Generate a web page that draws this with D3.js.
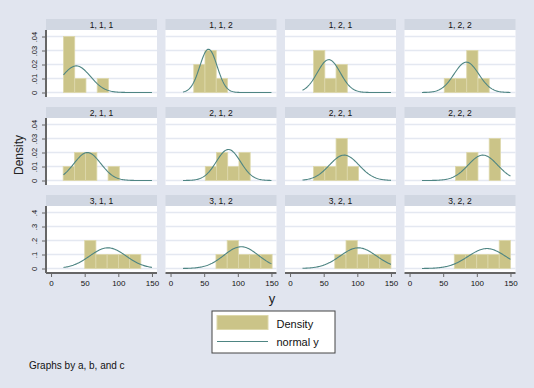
<!DOCTYPE html>
<html>
<head>
<meta charset="utf-8">
<script src="https://cdn.jsdelivr.net/npm/d3@7"></script>
<style>
  body { margin: 0; background: #e1e5ef; }
  svg { display: block; font-family: "Liberation Sans", Arial, sans-serif; }
</style>
</head>
<body>
<svg id="chart" width="534" height="388"></svg>
<script>
// panel titles (a, b, c)
const panelTitles = ["1, 1, 1", "1, 1, 2", "1, 2, 1", "1, 2, 2",
                     "2, 1, 1", "2, 1, 2", "2, 2, 1", "2, 2, 2",
                     "3, 1, 1", "3, 1, 2", "3, 2, 1", "3, 2, 2"]
// histogram: left edge of first bin and density of each bin
const binStart = [18.5, 34.5, 35, 51.6, 18, 51.6, 35, 68.3, 50, 67.5, 66.5, 66.5]
const binWidth = 16.7
const binDensity = [
    [.04, .01, 0, .01],
    [.02, .03, .01],
    [.03, .01, .02],
    [.01, .01, .03, .01],
    [.01, .02, .02, 0, .01],
    [.01, .02, .01, .02],
    [.01, .01, .03, .01],
    [.01, .02, 0, .03],
    [.02, .01, .01, .01, .01],
    [.01, .02, .01, .01, .01],
    [.01, .02, .01, .01, .01],
    [.01, .01, .01, .01, .02]
]
// normal overlay: mean and sd per panel
const normMean = [37.5, 56.4, 57.6, 84.5, 54, 86, 80.5, 109, 84.5, 105, 101.5, 115]
const normSd = [21, 12.9, 17, 18.4, 20, 18, 22, 22, 27, 25.7, 27, 28]
const yRange = [18.5, 150]   // range of y, curve is drawn over this

const xTicks = [0, 50, 100, 150]
const yTicks = [0, .01, .02, .03, .04]
const yTickLabels = [
    ["0", ".01", ".02", ".03", ".04"],
    ["0", ".01", ".02", ".03", ".04"],
    ["0", ".1", ".2", ".3", ".4"]
]

const svg = d3.select("#chart")
const nCols = 4
const colX = [46, 165.5, 285, 404.5],
    panelW = 111,
    rowY = [19, 107, 195],
    headH = 11,
    plotH = 67

const x = d3.scaleLinear().domain([-7.5, 157.5]).range([0, panelW])
const y = d3.scaleLinear().domain([0, .04]).range([62.5, 6.5])

const barFill = "#cbc488", barStroke = "#ddd8ab", lineColor = "#4e8583"

panelTitles.forEach((title, i) => {
    const r = Math.floor(i / nCols), c = i % nCols
    const g = svg.append("g").attr("transform", `translate(${colX[c]},${rowY[r]})`)

    // header strip
    g.append("rect").attr("width", panelW).attr("height", headH).attr("fill", "#d1d7e2")
    g.append("text").attr("x", panelW / 2).attr("y", 8.7)
        .attr("text-anchor", "middle").attr("font-size", 8.5).attr("fill", "#111")
        .text(title)

    const p = g.append("g").attr("transform", `translate(0,${headH})`)
    p.append("rect").attr("width", panelW).attr("height", plotH).attr("fill", "#fff")

    // gridlines
    p.selectAll("line.grid").data(yTicks).join("line")
        .attr("x1", 0).attr("x2", panelW)
        .attr("y1", d => y(d)).attr("y2", d => y(d))
        .attr("stroke", "#e4e8f1").attr("stroke-width", 1.6)

    // bars
    const bins = binDensity[i].map((d, k) => ({x0: binStart[i] + k * binWidth, d: d}))
        .filter(b => b.d > 0)
    p.selectAll("rect.bar").data(bins).join("rect")
        .attr("class", "bar")
        .attr("x", b => x(b.x0))
        .attr("width", x(binWidth) - x(0))
        .attr("y", b => y(b.d))
        .attr("height", b => y(0) - y(b.d))
        .attr("fill", barFill).attr("stroke", barStroke).attr("stroke-width", 0.8)

    // normal curve
    const pts = d3.range(0, 101).map(k => {
        const v = yRange[0] + (yRange[1] - yRange[0]) * k / 100
        const z = (v - normMean[i]) / normSd[i]
        return [v, Math.exp(-z * z / 2) / (normSd[i] * Math.sqrt(2 * Math.PI))]
    })
    p.append("path").datum(pts)
        .attr("d", d3.line().x(d => x(d[0])).y(d => y(d[1])))
        .attr("fill", "none").attr("stroke", lineColor).attr("stroke-width", 1.1)

    // y axis on first column
    if (c === 0) {
        const ya = p.append("g")
            .call(d3.axisLeft(y).tickValues(yTicks).tickSize(4).tickFormat((d, k) => yTickLabels[r][k]))
        ya.select(".domain").attr("d", `M0,0V${plotH}`).attr("stroke", "#666").attr("stroke-width", 2)
        ya.selectAll(".tick line").attr("stroke", "#666")
        ya.selectAll(".tick text")
            .attr("font-size", 7.5).attr("font-family", "Liberation Sans, Arial, sans-serif")
            .attr("fill", "#111")
            .attr("x", 0).attr("y", -9).attr("dy", 0)
            .attr("text-anchor", "middle")
            .attr("transform", "rotate(-90)")
    }
    // x axis on bottom row
    if (r === 2) {
        const xa = p.append("g").attr("transform", `translate(0,${plotH})`)
            .call(d3.axisBottom(x).tickValues(xTicks).tickSize(4))
        xa.select(".domain").attr("d", `M0,0H${panelW}`).attr("stroke", "#666").attr("stroke-width", 2)
        xa.selectAll(".tick line").attr("stroke", "#666")
        xa.selectAll(".tick text")
            .attr("font-size", 8).attr("font-family", "Liberation Sans, Arial, sans-serif")
            .attr("fill", "#111").attr("y", 7)
    }
})

// axis titles
svg.append("text").attr("x", 272).attr("y", 303).attr("text-anchor", "middle")
    .attr("font-size", 13).attr("fill", "#222").text("y")
svg.append("text").attr("transform", "translate(23,155) rotate(-90)")
    .attr("text-anchor", "middle").attr("font-size", 12).attr("fill", "#222").text("Density")

// legend
const lg = svg.append("g").attr("transform", "translate(212,311)")
lg.append("rect").attr("width", 123).attr("height", 42).attr("fill", "#fff")
    .attr("stroke", "#444").attr("stroke-width", 1)
lg.append("rect").attr("x", 5).attr("y", 4.5).attr("width", 51).attr("height", 14)
    .attr("fill", barFill).attr("stroke", barStroke)
lg.append("text").attr("x", 64.5).attr("y", 16.5).attr("font-size", 11).attr("fill", "#111").text("Density")
lg.append("line").attr("x1", 5).attr("x2", 56).attr("y1", 30.5).attr("y2", 30.5)
    .attr("stroke", lineColor).attr("stroke-width", 1.2)
lg.append("text").attr("x", 64.5).attr("y", 35).attr("font-size", 11).attr("fill", "#111").text("normal y")

svg.append("text").attr("x", 29).attr("y", 369).attr("font-size", 10).attr("fill", "#111")
    .text("Graphs by a, b, and c")
</script>
</body>
</html>
